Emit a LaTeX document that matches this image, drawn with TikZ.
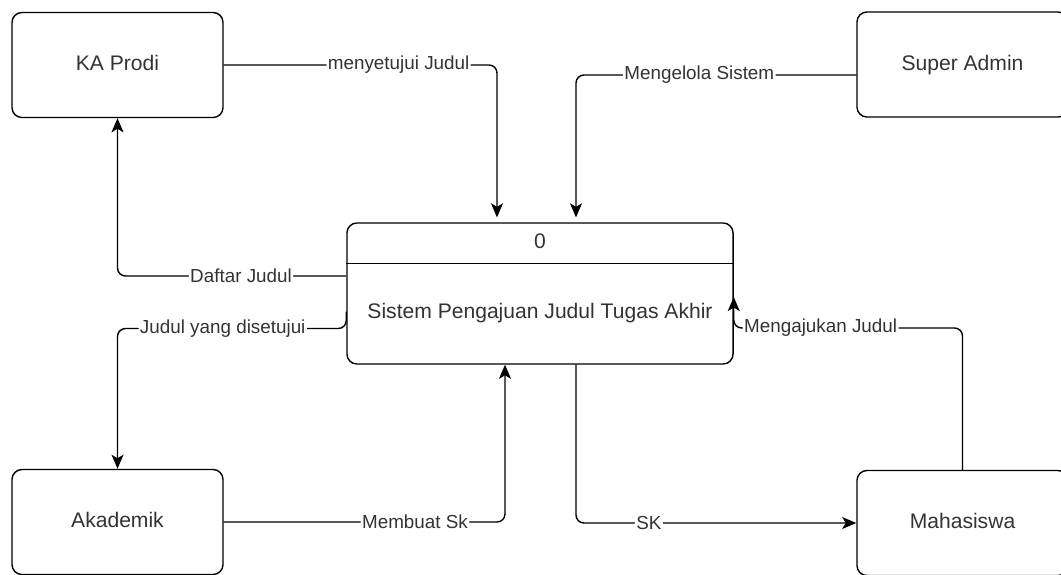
\documentclass[tikz,border=0pt]{standalone}
\usepackage{fontspec}
\setmainfont{Liberation Sans}
\usetikzlibrary{arrows.meta,calc}
\tikzset{
  entity/.style={draw, rounded corners=0.25cm, line width=1pt,
    minimum width=5.275cm, minimum height=2.625cm,
    text height=11pt, text depth=3pt,
    text=black!80, font=\fontsize{15}{18}\selectfont},
  proses/.style={draw, rounded corners=0.25cm, line width=1pt,
    minimum width=9.65cm, minimum height=3.525cm},
  teks/.style={text=black!80, font=\fontsize{15}{18}\selectfont, inner sep=1pt,
    text height=11pt, text depth=3pt},
  lbl/.style={fill=white, inner sep=1pt, text=black!80,
    font=\fontsize{13.4}{16}\selectfont},
  flow/.style={line width=1pt, rounded corners=0.2cm,
    -{Stealth[length=10pt,width=8.5pt,inset=2.5pt]}}
}
\begin{document}
\begin{tikzpicture}[x=0.025cm, y=-0.025cm]
      \useasboundingbox (0,0) rectangle (1061,574);
      \path
        (117.5,65) node[entity] (kaprodi){KA Prodi}
        (962.5,64.5) node[entity] (admin){Super Admin}
        (117.5,522) node[entity] (akademik){Akademik}
        (962.5,523) node[entity] (mhs){Mahasiswa}
        (540,293.5) node[proses] (sistem){};
      \draw[line width=1pt] ($(sistem.north west)+(0,41)$) -- ($(sistem.north east)+(0,41)$);
      \node[teks] (nomor) at ($(sistem.north)+(0,21)$) {0};
      \node[teks] (nama) at ($(sistem.center)+(0,19.5)$) {Sistem Pengajuan Judul Tugas Akhir};
      \begin{scope}[flow]
        \draw[shorten >=3.5pt] (kaprodi.east) -| node[lbl,pos=0.32]{menyetujui Judul} ($(sistem.north)+(-43,0)$);
        \draw[shorten >=3.5pt] ($(admin.west)+(0,10.5)$) -| node[lbl,pos=0.28]{Mengelola Sistem} ($(sistem.north)+(36,0)$);
        \draw ($(sistem.west)+(0,-17.5)$) -| node[lbl,pos=0.23]{Daftar Judul} (kaprodi.south);
        \draw ($(sistem.west)+(0,18)$) -- ++(0,17) -| node[lbl,pos=0.27]{Judul yang disetujui} (akademik.north);
        \draw (akademik.east) -| node[lbl,pos=0.34]{Membuat Sk} ($(sistem.south)+(-35,0)$);
        \draw ($(sistem.south)+(36,0)$) |- node[lbl,pos=0.63]{SK} (mhs.west);
        \draw (mhs.north) |- node[lbl,pos=0.81]{Mengajukan Judul} ($(sistem.east)+(0,34.5)$) -- ($(sistem.east)+(0,3.5)$);
      \end{scope}
    \end{tikzpicture}
\end{document}
